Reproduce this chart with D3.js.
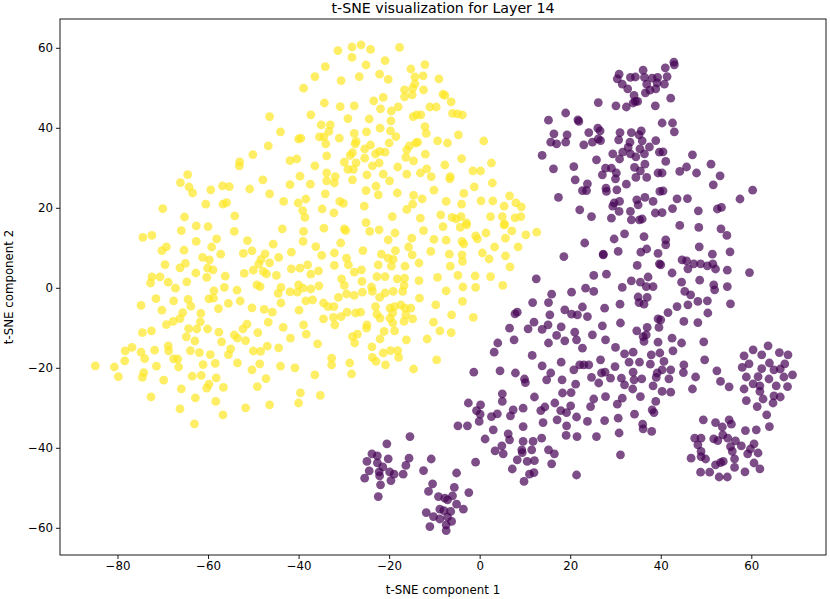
<!DOCTYPE html>
<html>
<head>
<meta charset="utf-8">
<script src="https://cdn.jsdelivr.net/npm/d3@7"></script>
<style>
  body { margin: 0; background: #fff; }
  svg { display: block; font-family: "DejaVu Sans", sans-serif; }
</style>
</head>
<body>
<div id="chart"></div>
<script>
// t-SNE points, label 1 (yellow)
const label1 = [
  [-46.4,42.8],[-44.0,39.0],[-40.0,37.2],[-46.7,35.5],[-50.1,33.3],[-53.0,31.5],[-53.1,30.5],[-41.9,31.8],[-40.4,32.2],[-64.5,28.3],
  [-66.1,26.3],[-64.2,25.2],[-63.4,23.7],[-59.4,24.5],[-56.8,25.5],[-55.3,25.3],[-50.8,24.7],[-47.9,27.0],[-46.4,23.5],[-41.9,25.8],
  [-39.7,27.9],[-70.0,19.8],[-65.2,17.7],[-60.5,20.9],[-56.7,20.9],[-55.9,21.3],[-54.1,18.0],[-43.3,21.6],[-40.1,21.2],
  [-31.3,59.3],[-28.2,60.2],[-26.2,60.75],[-24.1,59.6],[-17.7,60.1],[-28.2,57.6],[-20.9,56.8],[-25.1,55.7],[-34.1,55.3],[-36.4,52.8],
  [-30.6,51.8],[-26.6,52.8],[-22.1,53.4],[-20.2,52.1],[-15.2,54.7],[-12.1,55.8],[-14.3,52.7],[-12.5,53.0],[-14.3,51.0],[-16.6,49.5],
  [-14.8,49.9],[-16.6,47.75],[-14.9,48.25],[-12.4,49.5],[-9.0,52.25],[-8.1,48.4],[-7.7,48.1],[-6.3,46.5],[-38.9,49.9],[-34.3,46.2],
  [-30.8,45.3],[-27.7,45.5],[-23.4,46.75],[-21.3,47.6],[-21.9,44.75],[-19.5,44.2],[-18.0,45.25],[-11.0,45.2],[-9.6,45.2],[-6.0,43.6],
  [-4.9,43.5],[-3.8,43.2],[-14.7,42.8],[-13.9,43.25],[-13.0,43.25],[-37.3,43.25],[-29.1,42.3],[-24.4,42.2],[-19.6,41.75],[-12.1,40.3],
  [-11.8,38.6],[-4.7,38.25],[0.9,36.7],[-35.0,40.75],[-33.0,40.75],[-33.3,39.1],[-35.4,37.75],[-34.4,37.75],[-34.0,36.0],[-31.0,37.4],
  [-27.7,38.6],[-25.0,39.0],[-22.0,39.9],[-19.7,39.25],[-18.5,37.8],[-27.3,36.6],[-27.5,36.0],[-24.1,35.7],[-25.4,34.7],[-23.0,33.5],
  [-22.1,34.1],[-20.0,36.2],[-16.1,34.5],[-15.5,35.5],[-14.1,36.2],[-13.7,36.4],[-9.3,36.75],[-7.1,36.2],[-39.5,37.4],[-33.8,33.0],
  [-28.1,33.8],[-28.6,33.1],[-29.9,31.4],[-27.3,31.25],[-29.1,29.6],[-27.9,29.6],[-25.4,32.4],[-23.7,30.5],[-22.2,31.2],[-20.9,33.9],
  [-16.3,32.6],[-14.6,31.7],[-12.0,33.4],[-18.1,30.2],[-36.4,30.5],[-33.8,28.75],[-31.9,27.8],[-33.8,26.75],[-32.1,26.2],[-28.1,27.0],
  [-24.9,28.25],[-21.3,28.4],[-19.9,26.75],[-16.1,28.4],[-13.1,28.7],[-11.7,29.75],[-10.7,27.8],[-7.7,30.7],[-6.5,27.8],[-6.6,27.25],
  [-4.0,32.3],[-1.5,29.25],[0.2,29.2],[2.6,31.2],[-37.4,25.9],[-22.9,25.4],[-22.4,23.25],[-25.1,24.3],[-18.2,23.7],[-14.6,23.1],
  [-12.7,22.25],[-14.8,20.9],[-16.1,19.6],[-10.1,24.4],[-7.4,21.6],[-4.0,20.9],[-3.5,23.6],[-1.2,25.25],[0.3,21.75],[2.8,26.2],
  [2.9,21.7],[6.6,23.0],[5.4,20.4],[8.0,21.25],[9.2,20.25],[9.1,17.8],[7.8,17.5],[5.0,17.8],[5.5,15.9],[2.4,17.8],
  [-8.6,18.25],[-6.1,17.6],[-5.2,17.25],[-4.1,17.8],[-2.9,16.2],[-13.1,17.4],[-19.3,17.8],[-25.1,16.3],[-30.9,21.6],[-30.1,21.1],
  [-25.5,20.4],[-34.8,19.7],[-32.2,18.75],[-34.1,23.5],[-38.4,22.2],[-39.1,19.3],[-38.6,17.6],
  [-74.4,12.6],[-72.4,13.1],[-65.9,14.3],[-62.6,15.5],[-60.0,15.3],[-54.2,14.1],[-43.6,14.75],[-58.1,12.25],[-51.3,11.8],[-45.6,10.9],
  [-41.6,8.9],[-70.2,9.3],[-69.2,10.25],[-65.3,9.4],[-62.6,11.6],[-59.2,10.2],[-57.2,8.4],[-61.2,7.6],[-59.7,7.0],[-52.2,8.6],
  [-50.3,9.25],[-47.4,8.5],[-48.3,7.1],[-46.4,6.25],[-44.4,7.6],[-48.8,5.9],[-69.5,5.8],[-66.2,5.0],[-65.0,6.1],[-62.7,3.7],
  [-60.3,2.6],[-60.1,4.9],[-58.9,4.5],[-56.2,2.9],[-52.0,3.6],[-50.0,4.4],[-47.8,4.1],[-47.1,3.5],[-44.9,3.1],[-41.6,4.75],
  [-39.7,4.9],[-72.4,2.75],[-72.7,1.2],[-70.6,2.75],[-68.8,1.4],[-67.2,-0.1],[-64.7,1.5],[-56.4,0.1],[-53.6,-0.6],[-58.7,-0.75],
  [-59.8,-2.75],[-58.8,-2.6],[-49.2,0.75],[-48.5,0.3],[-43.9,0.1],[-44.5,-1.4],[-41.9,-1.0],[-40.0,0.75],[-40.3,-1.1],[-71.5,-2.7],
  [-67.6,-3.25],[-64.4,-2.9],[-63.8,-4.6],[-74.8,-4.4],[-70.2,-5.6],[-65.6,-6.2],[-66.2,-7.7],[-67.7,-8.4],[-69.2,-9.2],[-61.6,-6.4],
  [-61.7,-8.5],[-57.7,-5.2],[-55.5,-3.9],[-52.9,-3.3],[-50.3,-5.0],[-47.6,-5.4],[-45.8,-6.1],[-43.9,-3.8],[-46.7,-8.6],[-43.4,-9.9],
  [-39.9,-5.6],[-74.5,-11.2],[-72.5,-10.75],[-64.3,-10.2],[-62.5,-10.3],[-60.1,-10.3],[-64.8,-12.25],[-62.9,-13.3],[-57.6,-11.1],[-54.2,-11.8],
  [-52.3,-10.3],[-51.4,-9.1],[-53.5,-12.6],[-51.7,-13.2],[-57.0,-13.5],[-49.0,-11.2],[-41.8,-12.6],[-68.8,-14.5],[-71.8,-15.6],[-68.7,-15.75],
  [-63.9,-15.7],[-61.9,-16.2],[-59.5,-16.7],[-55.0,-15.25],[-55.5,-16.7],[-50.0,-15.8],[-48.4,-15.9],[-46.9,-14.6],[-44.4,-15.0],[-76.8,-14.9],
  [-78.3,-15.75],[-74.8,-16.1],[-74.0,-17.7],[-78.4,-18.25],[-67.6,-17.75],[-66.7,-17.8],[-84.9,-19.5],[-80.7,-19.8],[-79.8,-22.2],[-74.2,-21.2],
  [-74.5,-22.4],[-71.4,-19.6],[-69.8,-23.1],[-66.5,-19.8],[-61.1,-19.2],[-58.4,-18.9],[-53.5,-18.75],[-50.3,-20.5],[-48.6,-19.0],[-44.0,-19.6],
  [-40.8,-20.0],[-63.5,-22.1],[-61.5,-21.9],[-58.2,-22.5],[-59.8,-24.1],[-60.3,-25.1],[-56.6,-24.9],[-49.1,-24.7],[-47.2,-22.7],[-65.9,-25.25],
  [-72.6,-27.25],[-62.8,-27.5],[-58.3,-28.4],[-66.2,-30.25],[-56.7,-31.75],[-51.7,-30.0],[-46.4,-29.25],[-40.0,-28.8],[-39.6,-26.25],[-63.0,-34.0],
  [-34.4,14.9],[-29.9,14.75],[-29.6,14.3],[-24.3,14.1],[-22.2,14.5],[-18.7,13.7],[-12.4,14.3],[-8.1,15.3],[-4.3,15.1],[-2.9,15.75],
  [1.4,13.7],[5.4,15.75],[7.1,14.25],[10.2,13.25],[12.6,13.9],[-38.9,14.1],[-39.0,11.6],[-36.2,10.3],[-30.7,11.2],[-32.1,8.7],
  [-34.9,8.1],[-25.8,9.3],[-20.2,12.0],[-18.6,9.3],[-15.0,12.4],[-15.7,10.2],[-14.9,8.25],[-10.8,9.1],[-10.1,12.1],[-7.4,11.9],
  [-3.9,11.6],[-3.5,11.0],[-0.9,13.0],[-0.5,12.25],[3.3,10.2],[5.7,12.4],[8.5,10.25],[0.6,8.7],[2.1,7.2],[5.7,8.0],
  [6.7,5.25],[-3.9,8.25],[-3.8,6.6],[-6.7,8.4],[-6.5,5.4],[-13.4,6.2],[-16.5,5.4],[-19.1,7.1],[-19.5,5.4],[-21.7,8.4],
  [-22.4,5.75],[-20.2,7.4],[-29.4,7.4],[-29.0,5.75],[-32.1,5.6],[-35.6,4.25],[-38.0,5.75],[-37.3,3.4],[-27.7,3.9],[-26.1,4.5],
  [-30.5,2.25],[-29.9,0.6],[-26.0,1.6],[-23.9,0.2],[-22.7,2.8],[-20.9,2.8],[-18.2,2.25],[-16.6,2.4],[-16.7,0.6],[-13.4,1.8],
  [-9.3,2.6],[-4.8,3.1],[-1.0,3.0],[2.4,2.8],[5.1,0.6],[-0.9,0.1],[-3.7,0.2],[-7.4,-0.75],[-35.5,0.5],[-37.3,-0.3],
  [-39.0,-0.1],[-31.2,-2.4],[-29.4,-1.5],[-27.7,-1.9],[-25.9,-1.1],[-23.7,-0.9],[-22.1,-2.4],[-20.9,-1.3],[-19.1,-0.9],[-17.0,-0.9],
  [-13.3,-2.6],[-3.8,-3.4],[-9.7,-4.25],[-38.4,-3.25],[-36.9,-3.0],[-34.5,-3.8],[-33.5,-4.7],[-32.2,-4.7],[-29.3,-6.1],[-27.4,-6.3],
  [-26.3,-6.1],[-23.0,-4.7],[-22.7,-6.6],[-19.8,-5.1],[-18.8,-4.7],[-19.2,-6.3],[-17.4,-4.25],[-16.5,-5.1],[-15.2,-5.1],[-16.3,-6.75],
  [-14.8,-7.75],[-34.5,-7.75],[-32.3,-7.4],[-32.0,-9.25],[-30.6,-7.2],[-24.9,-9.25],[-25.0,-10.1],[-22.0,-7.6],[-19.8,-7.6],[-19.2,-8.8],
  [-18.8,-10.75],[-21.1,-10.9],[-16.7,-8.4],[-10.2,-8.6],[-8.8,-10.75],[-6.3,-11.2],[-6.2,-6.75],[-1.4,-7.4],[-38.9,-9.25],[-38.3,-11.6],
  [-35.8,-14.0],[-28.1,-12.2],[-27.0,-11.6],[-27.6,-13.8],[-22.0,-12.8],[-23.8,-14.75],[-21.3,-16.3],[-19.7,-15.7],[-18.1,-15.7],[-17.9,-17.4],
  [-23.7,-17.4],[-22.9,-18.4],[-20.8,-19.25],[-16.2,-13.0],[-11.6,-12.8],[-9.5,-18.0],[-14.6,-20.3],[-28.7,-18.8],[-28.3,-21.5],[-32.7,-17.6],
  [-32.7,-19.25],[-36.4,-21.75],[-35.2,-26.9]
];

// t-SNE points, label 0 (purple)
const label0 = [
  [42.9,56.4],[43.0,55.75],[41.0,55.0],[36.1,54.4],[30.8,53.4],[30.4,52.25],[33.3,52.6],[34.4,52.7],[36.4,52.6],[38.1,52.4],
  [39.3,52.6],[41.4,52.8],[31.5,50.9],[32.7,49.75],[36.9,50.9],[39.2,51.2],[40.8,50.9],[37.6,49.4],[38.9,49.75],[36.6,48.75],
  [34.1,48.1],[34.4,46.6],[34.9,46.6],[33.9,46.2],[42.2,47.4],[38.8,45.5],[32.4,45.2],[30.1,45.5],[26.2,46.3],[19.0,43.7],
  [15.2,41.9],[21.7,42.0],[21.9,41.6],[26.1,39.9],[26.6,39.25],[24.1,38.8],[16.4,38.5],[19.3,38.25],[15.7,36.4],[17.0,36.0],
  [19.0,36.4],[23.0,35.75],[24.9,36.4],[26.7,36.8],[26.2,37.25],[31.0,38.8],[33.5,38.8],[35.7,39.25],[35.2,38.25],[40.3,41.2],
  [42.6,41.2],[43.0,39.0],[30.7,37.0],[33.2,36.4],[35.9,36.75],[38.9,36.8],[37.5,35.2],[32.8,35.1],[35.4,34.75],[29.4,33.5],
  [31.6,33.9],[33.3,33.5],[34.5,32.75],[36.4,33.5],[30.9,32.2],[39.7,33.9],[13.8,33.1],[16.3,29.75],[20.8,30.3],[25.8,32.0],
  [27.8,29.9],[29.1,29.9],[27.1,28.25],[30.2,28.7],[30.0,27.25],[34.2,30.1],[36.5,30.9],[35.5,29.25],[34.5,27.6],[36.9,27.6],
  [32.4,25.9],[39.4,28.7],[21.1,27.0],[23.8,26.0],[22.7,24.3],[23.6,24.3],[27.9,24.9],[28.0,24.1],[30.3,24.5],[17.4,22.6],
  [22.1,19.5],[24.7,17.8],[29.1,17.4],[30.8,19.1],[29.7,21.2],[29.4,20.4],[30.9,21.6],[33.3,19.1],[33.5,17.0],[35.3,17.0],
  [35.9,17.2],[34.7,22.0],[35.0,20.75],[36.5,22.6],[38.3,21.6],[38.8,18.7],[39.8,24.1],[23.2,11.2],[27.3,8.4],[30.6,9.1],
  [32.0,13.5],[29.7,12.2],[36.3,12.8],[35.6,8.9],[36.9,9.7],[39.4,8.6],
  [18.6,7.8],[27.3,8.25],[34.8,5.6],[39.7,6.0],[12.5,2.25],[25.2,3.1],[28.0,3.4],[33.5,1.75],[35.5,1.4],[37.2,2.7],
  [36.8,0.3],[38.3,0.3],[31.5,0.1],[23.4,-0.1],[25.2,-0.9],[20.3,-1.1],[35.0,-2.3],[37.0,-2.4],[35.2,-3.7],[36.3,-4.1],
  [15.9,-1.6],[15.2,-3.7],[11.7,-3.7],[8.3,-6.1],[7.8,-6.5],[6.6,-10.1],[10.7,-10.25],[12.0,-8.6],[15.5,-6.75],[15.1,-9.25],
  [13.8,-10.4],[7.6,-13.0],[4.0,-13.8],[3.2,-16.1],[18.8,-5.5],[20.3,-6.6],[21.6,-6.75],[22.7,-4.8],[23.8,-7.2],[27.6,-5.1],
  [31.0,-4.1],[31.1,-8.8],[27.1,-9.5],[18.0,-9.75],[21.0,-11.1],[21.4,-13.0],[18.8,-13.25],[17.0,-11.9],[15.2,-13.8],[22.7,-15.1],
  [24.9,-11.75],[27.8,-13.0],[11.6,-16.9],[13.8,-19.5],[15.7,-21.3],[14.8,-23.0],[9.9,-22.8],[10.1,-23.7],[7.9,-21.3],[4.5,-20.75],
  [-1.3,-21.1],[18.0,-18.6],[18.2,-23.0],[20.8,-20.5],[22.1,-19.25],[23.0,-19.25],[24.1,-19.25],[21.2,-24.1],[24.7,-22.4],[26.3,-23.8],
  [26.7,-18.0],[26.9,-21.3],[27.7,-21.1],[29.9,-19.7],[30.0,-14.9],[32.0,-16.5],[33.9,-16.1],[33.0,-18.6],[35.3,-18.6],[37.0,-9.9],
  [36.8,-11.75],[36.3,-13.4],[34.7,-10.75],[36.1,-12.2],[39.4,-7.75],[39.6,-9.9],[37.9,-16.75],[37.7,-19.1],[39.4,-13.6],[39.8,-16.3],
  [28.9,-22.6],[31.3,-22.6],[32.0,-24.25],[33.9,-21.1],[34.1,-23.0],[35.8,-22.75],[39.0,-22.4],[39.2,-21.3],[38.3,-24.5],[33.8,-25.3],
  [35.5,-27.2],[38.9,-28.4],[38.1,-30.5],[38.5,-31.2],[36.0,-34.1],[36.1,-35.25],[38.0,-35.9],[34.2,-31.6],[30.6,-32.6],[30.4,-29.1],
  [31.5,-27.6],[27.8,-27.2],[27.6,-33.2],[25.8,-37.2],[30.8,-36.3],[31.1,-41.75],[24.5,-29.7],[25.2,-27.8],[23.8,-33.4],
  [40.5,34.0],[41.1,31.6],[47.0,33.25],[44.2,29.1],[45.7,30.2],[47.9,28.7],[51.1,30.9],[53.1,28.0],[51.6,25.75],[40.3,28.7],
  [40.5,24.25],[43.6,22.25],[45.9,22.3],[42.6,19.8],[40.3,18.8],[48.3,19.25],[52.5,19.7],[53.4,20.1],[57.5,22.2],[60.3,24.4],
  [44.2,15.6],[48.4,15.1],[53.3,14.75],[54.6,13.1],[41.1,12.0],[41.1,10.75],[48.5,10.25],[51.4,8.4],[55.3,9.0],[44.7,7.0],
  [45.7,6.75],[47.3,6.0],[48.8,6.0],[50.3,5.5],[51.5,6.0],[52.1,4.7],[46.0,4.75],[40.0,5.75],[42.5,3.7],[54.7,4.4],
  [59.6,3.8],[44.6,1.4],[48.6,1.9],[45.3,-0.9],[46.6,-1.75],[51.7,0.75],[51.9,-0.5],[54.7,0.3],[48.2,-3.4],[50.3,-3.25],
  [46.0,-4.25],[43.6,-4.7],[55.4,-4.0],[41.6,-6.2],[50.4,-6.3],[45.1,-8.4],[48.2,-8.7],[40.0,-8.0],[42.5,-12.6],[44.6,-13.8],
  [49.5,-13.5],[42.7,-15.75],[49.7,-18.0],[40.7,-18.4],[45.1,-19.25],[45.0,-21.2],[42.2,-20.5],[41.8,-22.75],[40.3,-20.5],[47.7,-22.3],
  [47.0,-25.3],[42.2,-26.1],[40.3,-25.9],[52.4,-20.75],[53.2,-23.4],[55.1,-24.75],
  [58.4,-17.0],[60.4,-15.5],[63.7,-14.5],[66.2,-16.2],[68.1,-16.75],[62.3,-16.75],[58.0,-19.9],[59.5,-19.0],[62.3,-20.2],[64.0,-18.8],
  [65.0,-20.5],[66.4,-20.3],[67.4,-19.0],[58.9,-22.3],[61.5,-22.2],[63.9,-22.8],[67.2,-22.3],[69.1,-21.75],[60.4,-24.0],[61.9,-24.5],
  [65.5,-24.5],[68.0,-24.7],[58.4,-25.3],[58.9,-28.2],[61.3,-29.7],[62.6,-27.8],[64.8,-28.8],[65.0,-27.0],[66.4,-27.3],[61.9,-25.9],
  [63.4,-31.75],[64.0,-34.7],
  [49.4,-33.0],[52.1,-33.7],[53.6,-34.8],[55.1,-33.0],[55.6,-34.1],[58.7,-35.7],[61.1,-35.5],[47.5,-37.6],[48.9,-37.6],[51.7,-37.75],
  [52.6,-38.2],[53.7,-36.75],[54.8,-37.6],[56.5,-38.25],[60.6,-39.0],[48.2,-39.25],[48.9,-40.9],[55.4,-39.7],[55.8,-40.9],[57.8,-39.5],
  [59.8,-40.3],[61.5,-41.3],[59.2,-41.5],[46.7,-42.6],[48.9,-42.2],[49.9,-42.8],[52.1,-44.25],[53.2,-43.7],[53.8,-43.4],[56.3,-42.75],
  [56.3,-44.9],[60.6,-43.8],[61.9,-45.25],[58.6,-46.0],[48.8,-46.1],[50.8,-46.1],[52.9,-47.3],[54.7,-47.3],
  [-2.5,-28.8],[0.2,-29.25],[5.0,-26.5],[5.0,-28.4],[-0.7,-30.7],[0.1,-31.6],[-0.1,-33.4],[2.6,-32.2],[3.9,-31.5],[7.4,-30.5],
  [6.8,-32.0],[9.6,-30.1],[12.1,-27.3],[13.5,-30.7],[14.4,-29.8],[16.6,-28.8],[18.3,-26.3],[20.2,-26.2],[17.9,-30.7],[20.1,-29.5],
  [19.2,-31.2],[17.1,-33.0],[21.4,-32.3],[19.2,-34.5],[19.1,-36.9],[21.5,-37.2],[14.0,-33.7],[9.6,-34.7],[-4.8,-34.5],[-2.7,-34.5],
  [3.0,-35.5],[6.3,-36.5],[6.6,-38.0],[1.2,-37.8],[4.9,-39.5],[3.4,-40.75],[5.2,-41.5],[9.6,-38.4],[11.8,-38.4],[13.7,-37.6],
  [9.3,-40.5],[9.4,-41.2],[11.5,-40.5],[15.2,-40.5],[16.5,-41.5],[8.3,-43.0],[10.5,-43.4],[12.1,-43.2],[15.9,-44.0],[7.2,-45.3],
  [11.0,-46.6],[12.0,-46.2],[9.8,-48.4],[21.4,-46.8],[-0.9,-43.6],
  [-15.4,-37.2],[-20.5,-39.0],[-23.8,-41.5],[-22.6,-42.0],[-20.2,-42.75],[-15.6,-42.6],[-24.9,-43.4],[-22.6,-43.75],[-21.4,-44.75],[-16.3,-44.4],
  [-16.9,-46.6],[-24.4,-45.75],[-22.2,-46.0],[-19.9,-46.0],[-18.9,-46.6],[-25.4,-47.6],[-22.1,-47.0],[-19.6,-48.2],[-21.9,-49.25],[-22.4,-52.2],
  [-12.4,-45.7],[-10.7,-42.8],
  [-5.1,-46.3],[-10.4,-49.0],[-11.3,-50.9],[-5.6,-49.9],[-2.4,-51.2],[-9.1,-52.2],[-7.7,-52.6],[-7.1,-53.0],[-6.0,-52.0],[-5.1,-54.1],
  [-3.6,-55.35],[-8.8,-55.35],[-7.9,-55.7],[-6.4,-55.9],[-11.8,-56.2],[-10.2,-57.2],[-8.8,-57.8],[-7.1,-57.3],[-6.2,-58.4],[-7.4,-59.25],
  [-11.0,-59.7],[-7.4,-60.7]
];

const xTicks = [-80, -60, -40, -20, 0, 20, 40, 60];
const yTicks = [-60, -40, -20, 0, 20, 40, 60];
const title = "t-SNE visualization for Layer 14";
const xLabel = "t-SNE component 1";
const yLabel = "t-SNE component 2";

const width = 830, height = 599;
const margin = {top: 19, right: 4, bottom: 44, left: 60};

const svg = d3.select("#chart").append("svg")
    .attr("width", width)
    .attr("height", height)
    .attr("viewBox", [0, 0, width, height]);

svg.append("rect").attr("width", width).attr("height", height).attr("fill", "#fff");

const x = d3.scaleLinear()
    .domain([-92.7, 76.5])
    .range([margin.left, width - margin.right]);
const y = d3.scaleLinear()
    .domain([-66.8, 67.2])
    .range([height - margin.bottom, margin.top]);

// matplotlib-like viridis ends for labels 0 and 1
const color = d => d === 1 ? d3.interpolateViridis(1) : d3.interpolateViridis(0);

// mix both labels the way a single scatter call would draw them
const pts = [];
const n = Math.max(label0.length, label1.length);
for (let i = 0; i < n; i++) {
    if (i < label1.length) pts.push({x: label1[i][0], y: label1[i][1], c: 1});
    if (i < label0.length) pts.push({x: label0[i][0], y: label0[i][1], c: 0});
}

svg.append("g")
    .selectAll("circle")
    .data(pts)
    .join("circle")
    .attr("cx", d => x(d.x))
    .attr("cy", d => y(d.y))
    .attr("r", 4.4)
    .attr("fill", d => color(d.c))
    .attr("fill-opacity", 0.7);

const xAxis = svg.append("g")
    .attr("transform", `translate(0,${height - margin.bottom})`)
    .call(d3.axisBottom(x).tickValues(xTicks).tickSize(4).tickPadding(3).tickSizeOuter(0));
const yAxis = svg.append("g")
    .attr("transform", `translate(${margin.left},0)`)
    .call(d3.axisLeft(y).tickValues(yTicks).tickSize(4).tickPadding(3).tickSizeOuter(0));

[xAxis, yAxis].forEach(g => {
    g.select(".domain").remove();
    g.selectAll(".tick line").attr("stroke", "#000").attr("stroke-width", 0.9);
    g.selectAll(".tick text")
        .attr("fill", "#000")
        .style("font-family", "DejaVu Sans, sans-serif")
        .style("font-size", "11.8px");
});

// frame
svg.append("rect")
    .attr("x", margin.left)
    .attr("y", margin.top)
    .attr("width", width - margin.left - margin.right)
    .attr("height", height - margin.top - margin.bottom)
    .attr("fill", "none")
    .attr("stroke", "#000")
    .attr("stroke-width", 0.9);

svg.append("text")
    .attr("x", (margin.left + width - margin.right) / 2)
    .attr("y", 13)
    .attr("text-anchor", "middle")
    .style("font-size", "14.2px")
    .text(title);

svg.append("text")
    .attr("x", (margin.left + width - margin.right) / 2)
    .attr("y", 594)
    .attr("text-anchor", "middle")
    .style("font-size", "11.8px")
    .text(xLabel);

svg.append("text")
    .attr("transform", `translate(13,${(margin.top + height - margin.bottom) / 2}) rotate(-90)`)
    .attr("text-anchor", "middle")
    .style("font-size", "11.8px")
    .text(yLabel);
</script>
</body>
</html>
